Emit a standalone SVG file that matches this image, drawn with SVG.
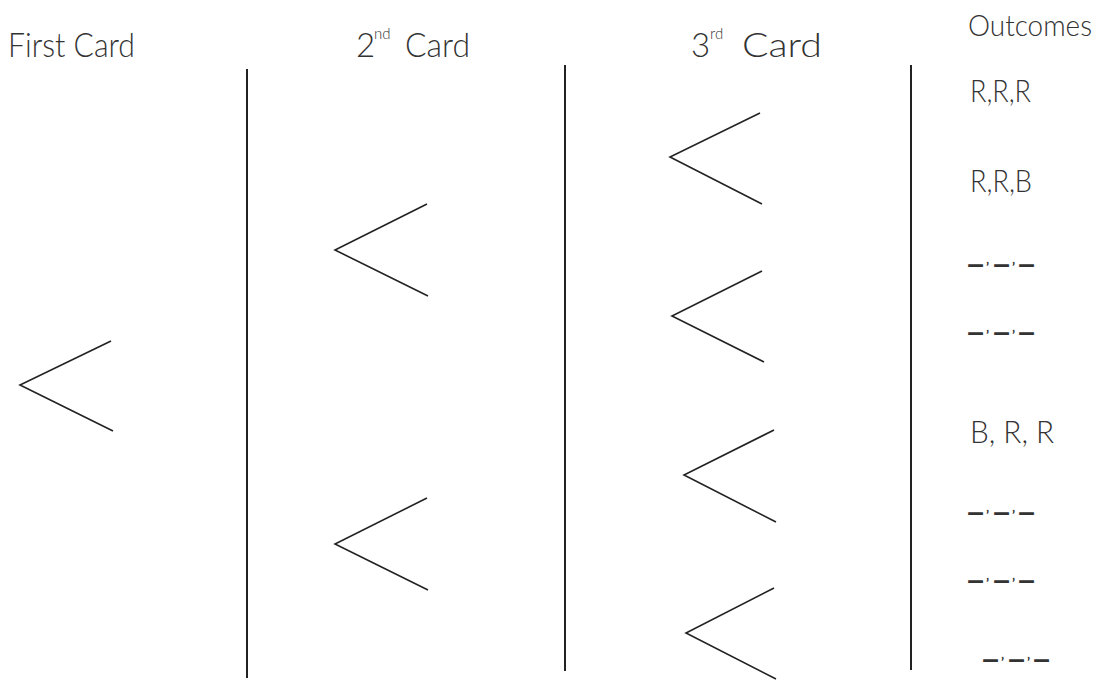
<svg xmlns="http://www.w3.org/2000/svg" width="1098" height="682" viewBox="0 0 1098 682">
<style>
.t{font-family:Lato,"Open Sans","Liberation Sans",sans-serif;font-weight:300;fill:#333;font-size:33px}
.sup{font-size:15px}
.o{font-size:31px}
.oc{font-size:29px}
.d{font-family:Lato,"Open Sans","Liberation Sans",sans-serif;font-weight:900;fill:#333;font-size:28px}
.a{font-family:Lato,"Open Sans","Liberation Sans",sans-serif;font-weight:700;fill:#333;font-size:14px}
.ln{stroke:#222;stroke-width:1.6;fill:none}
.ax{stroke:#222;stroke-width:2;fill:none}
</style>
<rect width="1098" height="682" fill="#fff"/>
<g id="headers">
<text class="t" x="8" y="57" textLength="127" lengthAdjust="spacingAndGlyphs">First Card</text>
<text class="t" x="356" y="57">2</text>
<text class="t sup" x="374" y="39">nd</text>
<text class="t" x="405" y="57" textLength="65" lengthAdjust="spacingAndGlyphs">Card</text>
<text class="t" x="691" y="57">3</text>
<text class="t sup" x="710" y="39">rd</text>
<text class="t" x="742" y="57" textLength="80" lengthAdjust="spacingAndGlyphs">Card</text>
<text class="t oc" x="968" y="36" textLength="124" lengthAdjust="spacingAndGlyphs">Outcomes</text>
</g>
<g id="dividers">
<line class="ax" x1="247" y1="69" x2="247" y2="678"/>
<line class="ax" x1="565" y1="65" x2="565" y2="671"/>
<line class="ax" x1="911" y1="65" x2="911" y2="670"/>
</g>
<g id="connectors">
<polyline id="c1" class="ln" points="111,341 20,385 113,431"/>
<polyline id="c2a" class="ln" points="427,204 335,250 428,296"/>
<polyline id="c2b" class="ln" points="427,498 335,544 428,590"/>
<polyline id="c3a" class="ln" points="760,113 670,157 762,204"/>
<polyline id="c3b" class="ln" points="762,271 672,316 764,362"/>
<polyline id="c3c" class="ln" points="774,430 684,475 776,522"/>
<polyline id="c3d" class="ln" points="774,588 686,633 776,679"/>
</g>
<g id="outcomes">
<text class="t o" x="970" y="102" textLength="61" lengthAdjust="spacingAndGlyphs">R,R,R</text>
<text class="t o" x="970" y="192" textLength="62" lengthAdjust="spacingAndGlyphs">R,R,B</text>
<text class="t o" x="970" y="443" textLength="84" lengthAdjust="spacingAndGlyphs">B, R, R</text>
<g id="blank1" transform="translate(0,274)">
<text class="d" transform="translate(965,0) scale(1.3,1)">–</text><text class="a" x="986" y="-2">’</text>
<text class="d" transform="translate(991,0) scale(1.3,1)">–</text><text class="a" x="1012" y="-2">’</text>
<text class="d" transform="translate(1016,0) scale(1.3,1)">–</text>
</g>
<g id="blank2" transform="translate(0,342)">
<text class="d" transform="translate(965,0) scale(1.3,1)">–</text><text class="a" x="986" y="-2">’</text>
<text class="d" transform="translate(991,0) scale(1.3,1)">–</text><text class="a" x="1012" y="-2">’</text>
<text class="d" transform="translate(1016,0) scale(1.3,1)">–</text>
</g>
<g id="blank3" transform="translate(0,522)">
<text class="d" transform="translate(965,0) scale(1.3,1)">–</text><text class="a" x="986" y="-2">’</text>
<text class="d" transform="translate(991,0) scale(1.3,1)">–</text><text class="a" x="1012" y="-2">’</text>
<text class="d" transform="translate(1016,0) scale(1.3,1)">–</text>
</g>
<g id="blank4" transform="translate(0,590)">
<text class="d" transform="translate(965,0) scale(1.3,1)">–</text><text class="a" x="986" y="-2">’</text>
<text class="d" transform="translate(991,0) scale(1.3,1)">–</text><text class="a" x="1012" y="-2">’</text>
<text class="d" transform="translate(1016,0) scale(1.3,1)">–</text>
</g>
<g id="blank5" transform="translate(15,669)">
<text class="d" transform="translate(965,0) scale(1.3,1)">–</text><text class="a" x="986" y="-2">’</text>
<text class="d" transform="translate(991,0) scale(1.3,1)">–</text><text class="a" x="1012" y="-2">’</text>
<text class="d" transform="translate(1016,0) scale(1.3,1)">–</text>
</g>
</g>
</svg>
